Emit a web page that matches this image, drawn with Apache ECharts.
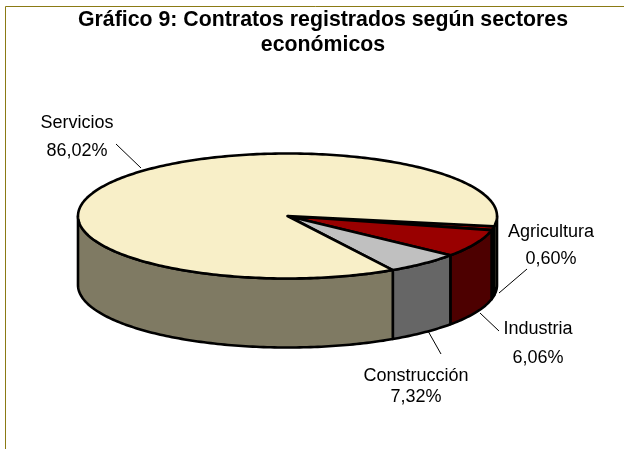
<!DOCTYPE html>
<html><head><meta charset="utf-8">
<style>html,body{margin:0;padding:0;background:#fff}#c{width:624px;height:449px}</style>
<script src="https://cdn.jsdelivr.net/npm/echarts@6/dist/echarts.min.js"></script>
</head><body><div id="c"></div>
<script>
const sectors = ['Agricultura','Industria','Construcción','Servicios'];
const shares = [0.60, 6.06, 7.32, 86.02];
const topColors = ['#990000','#990000','#C0C0C0','#F8EFC8'];
const sideColors = ['#4D0000','#4D0000','#666666','#7F7A63'];
const titleText = 'Gráfico 9: Contratos registrados según sectores\neconómicos';

// layout of the pie drawing
const cx = 287.5, cy = 216, rx = 209.5, ry = 62.5, depth = 69, startDeg = 9.5;
// The reference's 3D projection bends slice edges away from exact proportion:
// drawing-only shift (degrees) on the end edge of each slice.
const edgeShiftDeg = [1.4, 5.5, 0, 0];
// label layout: [centerX, nameY, valueY]
const labelPos = [[551,232,259],[538,329,358],[416,376,397],[77,123,151]];
// leader layout: [x1,y1,x2,y2]
const leaderPos = [[527,269,499,293],[499,331,480,313],[441,354,428,331],[116,144,141,168]];

const total = shares.reduce((a,b)=>a+b,0);
const spans = []; let acc = startDeg, prevEnd = startDeg;
shares.forEach((v,i)=>{acc+=v/total*360;const e=acc+edgeShiftDeg[i];spans.push([prevEnd,e]);prevEnd=e;});
const pt=(d,dy)=>{const t=d*Math.PI/180;return [cx+rx*Math.cos(t),cy+ry*Math.sin(t)+(dy||0)];};
const arc=(a,b,dy)=>{const n=Math.max(2,Math.ceil(Math.abs(b-a)));const p=[];for(let i=0;i<=n;i++)p.push(pt(a+(b-a)*i/n,dy));return p;};
const line={stroke:'#000',lineWidth:2.6,lineJoin:'round'};

function wallPieces(i){
  // the visible front of the rim lies between 0 and 180 degrees
  const out=[];const [s,e]=spans[i];
  [[0,180],[360,540]].forEach(([lo,hi])=>{
    const a=Math.max(s,lo),b=Math.min(e,hi);
    if(b>a) out.push({type:'polygon',shape:{points:arc(a,b,0).concat(arc(b,a,depth))},
      style:Object.assign({fill:sideColors[i]},line)});
  });
  return out;
}
const dataRows = sectors.map((n,i)=>[i,shares[i]]);
const option={
  animation:false,
  backgroundColor:'#fff',
  title:{text:titleText,left:318,top:3,textAlign:'center',
    textStyle:{fontFamily:'Liberation Sans',fontSize:21.3,fontWeight:'bold',color:'#000',lineHeight:24.5}},
  graphic:[{type:'rect',silent:true,shape:{x:5.5,y:6.5,width:800,height:800},style:{fill:'none',stroke:'#8B7A14',lineWidth:1}}],
  series:[
    {type:'custom',coordinateSystem:'none',z:2,data:dataRows,silent:true,
     renderItem:(p,api)=>({type:'group',children:wallPieces(api.value(0))})},
    {type:'custom',coordinateSystem:'none',z:3,data:dataRows,silent:true,
     renderItem:(p,api)=>{const i=api.value(0);const [s,e]=spans[i];
       return {type:'polygon',shape:{points:[[cx,cy]].concat(arc(s,e,0))},
         style:Object.assign({fill:topColors[i]},line)};}},
    {type:'custom',coordinateSystem:'none',z:4,data:dataRows,silent:true,
     renderItem:(p,api)=>{const i=api.value(0);const l=leaderPos[i],q=labelPos[i];
       const pct=api.value(1).toFixed(2).replace('.',',')+'%';
       const txt=(t,y)=>({type:'text',x:q[0],y:y,style:{text:t,fill:'#000',align:'center',verticalAlign:'middle',
          font:'18px "Liberation Sans"'}});
       return {type:'group',children:[
         {type:'line',shape:{x1:l[0],y1:l[1],x2:l[2],y2:l[3]},style:{stroke:'#000',lineWidth:1}},
         txt(sectors[i],q[1]),txt(pct,q[2])]};}}
  ]
};
echarts.init(document.getElementById('c')).setOption(option);
</script></body></html>
